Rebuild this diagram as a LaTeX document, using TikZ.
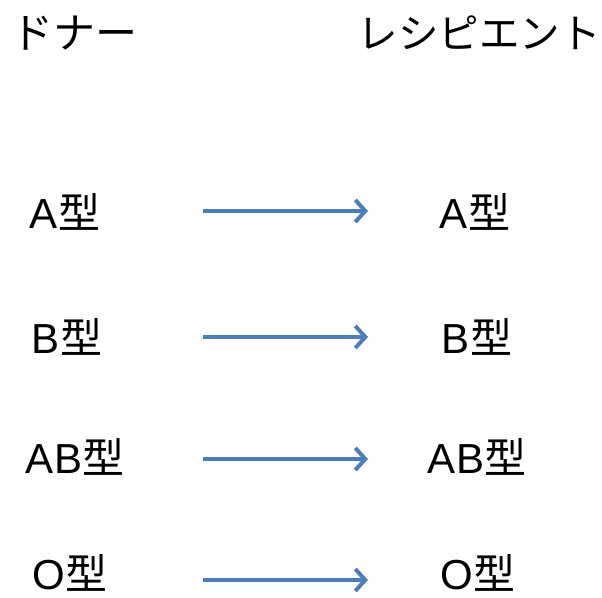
\documentclass[tikz,border=0pt]{standalone}
\usepackage{fontspec}
\setmainfont{Noto Sans CJK JP}
\newfontfamily\latfont{Liberation Sans}
\usetikzlibrary{arrows.meta}
\definecolor{arrowblue}{HTML}{4A7EBB}
\tikzset{
  lbl/.style={inner sep=0pt, font=\fontsize{42}{42}\selectfont},
  conn/.style={draw=arrowblue, line width=4pt, -{Straight Barb[length=10pt,width=22pt,line width=4pt]}}
}
\begin{document}
\begin{tikzpicture}[x=1pt,y=1pt]
\useasboundingbox (0,0) rectangle (602,597);
\node[lbl] (don) at (74,564) {ドナー};
\node[lbl, font=\fontsize{40.5}{40.5}\selectfont] (rec) at (479,564) {レシピエント};
\node[lbl] (a1) at (65,385) {{\latfont A}型};
\node[lbl] (a2) at (475,385) {{\latfont A}型};
\node[lbl] (b1) at (67,260) {{\latfont B}型};
\node[lbl] (b2) at (477,260) {{\latfont B}型};
\node[lbl] (ab1) at (75,140) {{\latfont A\kern1pt B}型};
\node[lbl] (ab2) at (477,140) {{\latfont A\kern1pt B}型};
\node[lbl] (o1) at (70,24) {{\latfont O}型};
\node[lbl] (o2) at (478,24) {{\latfont O}型};
\coordinate (s1) at (203,386); \coordinate (e1) at (368,386);
\coordinate (s2) at (203,260); \coordinate (e2) at (368,260);
\coordinate (s3) at (203,138); \coordinate (e3) at (368,138);
\coordinate (s4) at (203,17); \coordinate (e4) at (368,17);
\draw[conn] (s1) -- (e1);
\draw[conn] (s2) -- (e2);
\draw[conn] (s3) -- (e3);
\draw[conn] (s4) -- (e4);
\end{tikzpicture}
\end{document}
